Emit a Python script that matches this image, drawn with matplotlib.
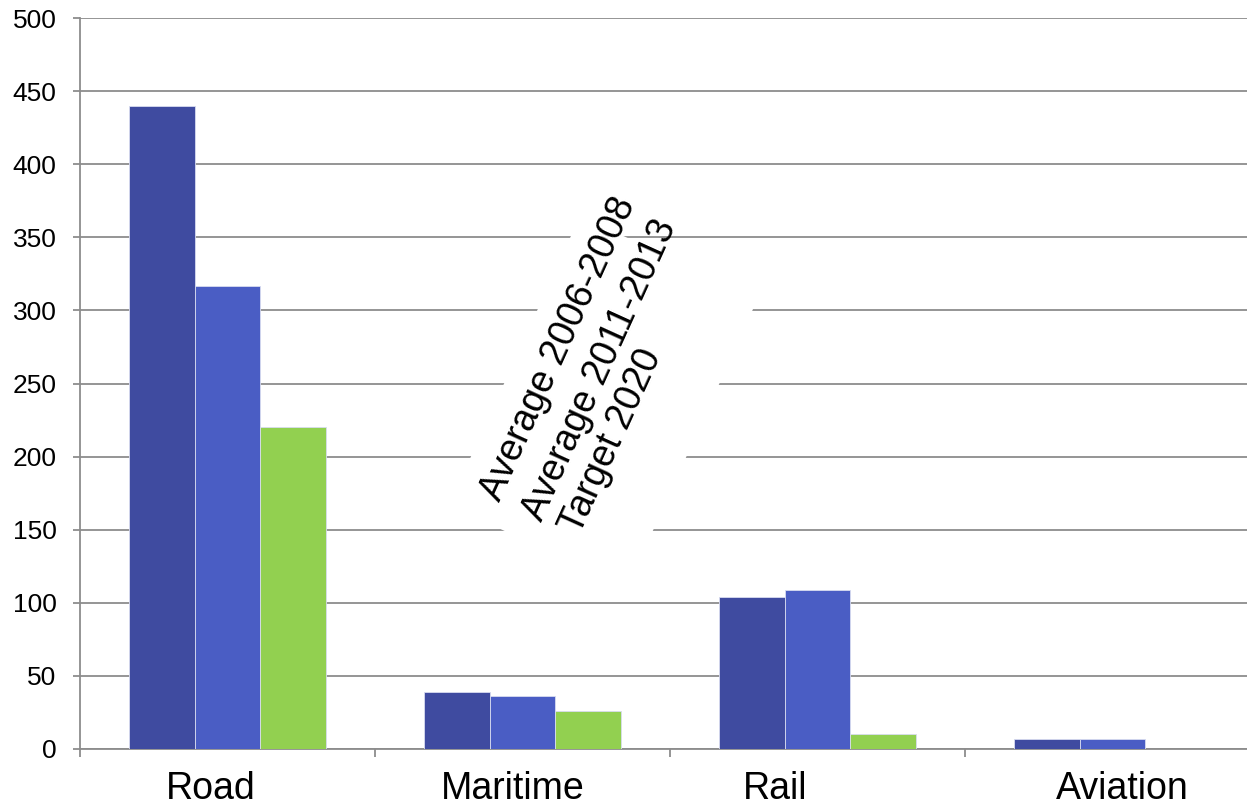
import numpy as np
import matplotlib
matplotlib.use("Agg")
import matplotlib.pyplot as plt
from matplotlib.patches import Polygon
from matplotlib.transforms import IdentityTransform

plt.rcParams["font.family"] = ["Liberation Sans", "DejaVu Sans"]

# ── data ──────────────────────────────────────────────────────────────────
categories = ["Road", "Maritime", "Rail", "Aviation"]
series_names = ["Average 2006-2008", "Average 2011-2013", "Target 2020"]
avg_2006_2008 = [440, 39, 104, 7]
avg_2011_2013 = [317, 36, 109, 7]
target_2020 = [220, 26, 10, 0]
y_ticks = [0, 50, 100, 150, 200, 250, 300, 350, 400, 450, 500]

colors = ["#3F4BA0", "#4A5DC4", "#92D050"]
# category labels in the original are not exactly centred under the groups
label_shift = [-0.056, -0.034, -0.144, 0.032]

W, H = 1247, 806
fig = plt.figure(figsize=(W / 100, H / 100), dpi=100)
# axes runs a little past the right edge, as in the original
ax = fig.add_axes([80 / W, (H - 749) / H, 1180 / W, 731 / H])

x = np.arange(len(categories))
bw = 0.2237
for i, vals in enumerate([avg_2006_2008, avg_2011_2013, target_2020]):
    ax.bar(x + (i - 1) * bw, vals, width=bw, color=colors[i],
           edgecolor="#d8dcf0", linewidth=0.6, zorder=3)

ax.set_xlim(-0.5, len(categories) - 0.5)
ax.set_ylim(0, 500)
ax.set_yticks(y_ticks)
ax.yaxis.grid(True, color="#8c8c8c", linewidth=1.3, zorder=0)
ax.set_axisbelow(True)

ax.set_xticks(x + np.array(label_shift))
ax.set_xticklabels(categories, fontsize=27)
ax.set_xticks(np.arange(-0.5, len(categories)), minor=True)
ax.tick_params(axis="x", which="major", length=0, pad=16)
ax.tick_params(axis="x", which="minor", length=6, color="#8c8c8c", width=1.3)
ax.tick_params(axis="y", length=5, color="#8c8c8c", width=1.3, pad=12,
               labelsize=19)

for s in ["top", "right"]:
    ax.spines[s].set_visible(False)
for s in ["left", "bottom"]:
    ax.spines[s].set_color("#8c8c8c")
    ax.spines[s].set_linewidth(1.3)

# ── rotated legend (pixel coords, y measured from top) ─────────────────────
def px(xp, yp):
    return (xp, H - yp)

box = [px(449, 505), px(580, 216), px(758, 298), px(627, 588)]
ax.add_patch(Polygon(box, closed=True, facecolor="white", edgecolor="none",
                     transform=IdentityTransform(), zorder=4))

starts = [(500, 503), (542, 523), (580, 536)]
for name, (sx, sy) in zip(series_names, starts):
    fig.text(sx / W, (H - sy) / H, name, rotation=65.6,
             rotation_mode="anchor", ha="left", va="baseline",
             fontsize=27, color="black", zorder=5)

fig.savefig("out.png", dpi=100)
